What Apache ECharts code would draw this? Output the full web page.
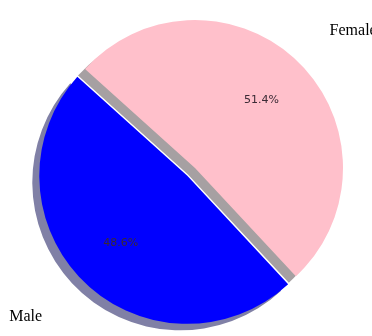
<!DOCTYPE html>
<html>
<head>
<meta charset="utf-8">
<script src="https://cdn.jsdelivr.net/npm/echarts@6/dist/echarts.min.js"></script>
<style>
  html, body { margin: 0; padding: 0; background: #fff; }
  #main { width: 372px; height: 336px; }
</style>
</head>
<body>
<div id="main"></div>
<script>
// gender split
const labels = ['Female', 'Male']
const values = [51.4, 48.6]
const colors = ['#ffc0cb', '#0000ff']
const shadows = ['#a6a0a2', '#8080a6']
const exploded = [false, true]

let myChart = echarts.init(document.getElementById('main'))

const center = [195, 168]
const radius = 148
// outer name label distances per slice
const lineLen = [44, 49]
const lineLen2 = [0, 7]

let mainData = labels.map(function (name, i) {
  return {
    name: name,
    value: values[i],
    selected: exploded[i],
    itemStyle: {
      color: colors[i],
      shadowColor: shadows[i],
      shadowBlur: 0,
      shadowOffsetX: -7,
      shadowOffsetY: 6.5
    },
    labelLine: {
      show: false,
      length: lineLen[i],
      length2: lineLen2[i]
    }
  }
})

let pctData = labels.map(function (name, i) {
  return {
    name: name,
    value: values[i],
    selected: exploded[i],
    itemStyle: { color: 'rgba(0,0,0,0)' }
  }
})

myChart.setOption({
  animation: false,
  series: [{
    name: 'gender',
    type: 'pie',
    center: center,
    radius: [0, radius],
    startAngle: 138,
    clockwise: true,
    selectedMode: 'multiple',
    selectedOffset: 11,
    avoidLabelOverlap: false,
    silent: true,
    data: mainData,
    label: {
      show: true,
      position: 'outside',
      alignTo: 'none',
      distanceToLabelLine: 0,
      fontFamily: 'Liberation Serif',
      fontSize: 16,
      color: '#000',
      formatter: '{b}'
    },
    labelLine: { show: false }
  }, {
    name: 'pct',
    type: 'pie',
    center: center,
    radius: [radius * 0.24, radius],
    startAngle: 138,
    clockwise: true,
    selectedMode: 'multiple',
    selectedOffset: 11,
    avoidLabelOverlap: false,
    silent: true,
    percentPrecision: 1,
    data: pctData,
    label: {
      show: true,
      position: 'inner',
      fontFamily: 'DejaVu Sans',
      fontSize: 11,
      color: '#3a2a35',
      formatter: function (params) {
        return params.percent.toFixed(1) + '%'
      }
    },
    labelLine: { show: false }
  }]
})
</script>
</body>
</html>
